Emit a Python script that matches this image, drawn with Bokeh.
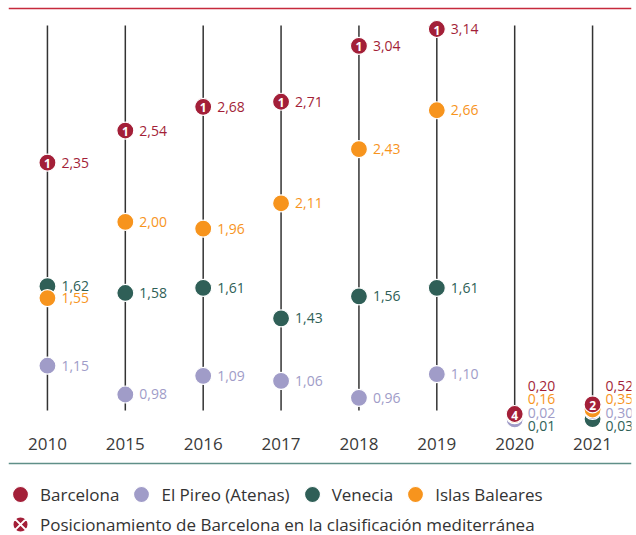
from bokeh.plotting import figure
from bokeh.models import (ColumnDataSource, Range1d, FactorRange, Span,
                          Legend, LegendItem)
from bokeh.core.properties import value
from bokeh.embed import file_html
from bokeh.resources import INLINE

# ---------------- data ----------------
years = ["2010", "2015", "2016", "2017", "2018", "2019", "2020", "2021"]
barcelona = [2.35, 2.54, 2.68, 2.71, 3.04, 3.14, 0.20, 0.52]
pireo = [1.15, 0.98, 1.09, 1.06, 0.96, 1.10, 0.02, 0.30]
venecia = [1.62, 1.58, 1.61, 1.43, 1.56, 1.61, 0.01, 0.03]
baleares = [1.55, 2.00, 1.96, 2.11, 2.43, 2.66, 0.16, 0.35]
bcn_rank = [1, 1, 1, 1, 1, 1, 4, 2]

series_names = ["Barcelona", "El Pireo (Atenas)", "Venecia", "Islas Baleares"]
legend_note = "Posicionamiento de Barcelona en la clasificación mediterránea"

# ---------------- style ----------------
C_BCN = "#a31f38"
C_PIR = "#a09cc8"
C_VEN = "#2f5f57"
C_BAL = "#f7941d"
FONT = "Open Sans"

W, H = 636, 535
FRAME_L, FRAME_R = 8, 5
N_MAIN = 6  # 2020 and 2021 are drawn on their own compressed scale

# page layout helpers (pixels measured from figure top)
MAIN_PX0, MAIN_PX_PER = 559.8, 169.2   # y_px = MAIN_PX0 - MAIN_PX_PER * v
REC_PX0, REC_PX_PER = 419.5, 30.0


def main_v(px):
    return (MAIN_PX0 - px) / MAIN_PX_PER


def rec_v(px):
    return (REC_PX0 - px) / REC_PX_PER


p = figure(width=W, height=H, output_backend="svg", toolbar_location=None,
           x_range=FactorRange(*years, range_padding=0, factor_padding=0),
           y_range=Range1d(main_v(H), main_v(0)),
           y_axis_location=None, min_border=0,
           min_border_left=FRAME_L, min_border_right=FRAME_R,
           background_fill_color="white", border_fill_color="white")
p.extra_y_ranges = {"recent": Range1d(rec_v(H), rec_v(0))}
p.outline_line_color = None
p.grid.visible = False

# x axis with year labels placed inside the frame
ax = p.xaxis[0]
ax.fixed_location = main_v(425)
ax.axis_line_color = None
ax.major_tick_line_color = None
ax.minor_tick_line_color = None
ax.major_label_standoff = 6
ax.major_label_text_font = FONT
ax.major_label_text_font_size = "17px"
ax.major_label_text_color = "#3a3a3a"

# top red rule and bottom divider
p.add_layout(Span(location=main_v(8), dimension="width",
                  line_color="#c62a3c", line_width=1.5))
p.add_layout(Span(location=main_v(463), dimension="width",
                  line_color="#5f8f88", line_width=1.5))

# vertical stems
p.segment(x0=years, y0=main_v(410), x1=years, y1=main_v(25),
          line_color="#333333", line_width=1.5)


def fmt(v):
    return f"{v:.2f}".replace(".", ",")


# ranking-marker renderer (drawn first, hidden beneath the recent Barcelona
# circles; it supplies the legend glyph for the ranking note)
rank_glyph_src = ColumnDataSource(dict(x=years[N_MAIN:], y=barcelona[N_MAIN:]))
note_r = p.scatter("x", "y", source=rank_glyph_src, marker="circle_x",
                   size=15, fill_color=C_BCN, line_color="white",
                   line_width=2, y_range_name="recent")

order = [(venecia, C_VEN, 6), (pireo, C_PIR, -7),
         (baleares, C_BAL, -21), (barcelona, C_BCN, -34)]
renderers = {}
for vals, color, rec_off in order:
    src_m = ColumnDataSource(dict(x=years[:N_MAIN], y=vals[:N_MAIN],
                                  label=[fmt(v) for v in vals[:N_MAIN]]))
    src_r = ColumnDataSource(dict(x=years[N_MAIN:], y=vals[N_MAIN:],
                                  ly=[0.0] * len(years[N_MAIN:]),
                                  label=[fmt(v) for v in vals[N_MAIN:]]))
    r = p.scatter("x", "y", source=src_m, size=17, fill_color=color,
                  line_color="white", line_width=1.2)
    p.scatter("x", "y", source=src_r, size=17, fill_color=color,
              line_color="white", line_width=1.2, y_range_name="recent")
    p.text("x", "y", "label", source=src_m, x_offset=14,
           text_baseline="middle", text_align="left", text_color=color,
           text_font=value(FONT), text_font_size="14px")
    p.text("x", "ly", "label", source=src_r, x_offset=13, y_offset=rec_off,
           text_baseline="middle", text_align="left", text_color=color,
           text_font=value(FONT), text_font_size="14px",
           y_range_name="recent")
    renderers[color] = r

# ranking numbers inside Barcelona markers
rank_m = ColumnDataSource(dict(x=years[:N_MAIN], y=barcelona[:N_MAIN],
                               t=[str(v) for v in bcn_rank[:N_MAIN]]))
rank_r = ColumnDataSource(dict(x=years[N_MAIN:], y=barcelona[N_MAIN:],
                               t=[str(v) for v in bcn_rank[N_MAIN:]]))
for src, rn in ((rank_m, "default"), (rank_r, "recent")):
    p.text("x", "y", "t", source=src, text_align="center",
           text_baseline="middle", text_color="white",
           text_font=value(FONT), text_font_style="bold",
           text_font_size="12px", y_range_name=rn, y_offset=1)

# legend
GLYPH = 40
legend_style = dict(orientation="horizontal", glyph_width=GLYPH,
                    glyph_height=GLYPH, label_standoff=0, spacing=2,
                    padding=0, margin=0,
                    border_line_color=None, background_fill_alpha=0,
                    label_text_font=FONT, label_text_font_size="17px",
                    label_text_color="#333333")
leg_x = 20 - GLYPH // 2 - FRAME_L
leg1 = Legend(items=[
    LegendItem(label=series_names[0], renderers=[renderers[C_BCN]]),
    LegendItem(label=series_names[1], renderers=[renderers[C_PIR]]),
    LegendItem(label=series_names[2], renderers=[renderers[C_VEN]]),
    LegendItem(label=series_names[3], renderers=[renderers[C_BAL]]),
], location=(leg_x, H - 494 - GLYPH // 2), **legend_style)
leg2 = Legend(items=[LegendItem(label=legend_note, renderers=[note_r])],
              location=(leg_x, H - 524 - GLYPH // 2), **legend_style)
p.add_layout(leg1)
p.add_layout(leg2)

open("out.html", "w").write(file_html(p, INLINE))
